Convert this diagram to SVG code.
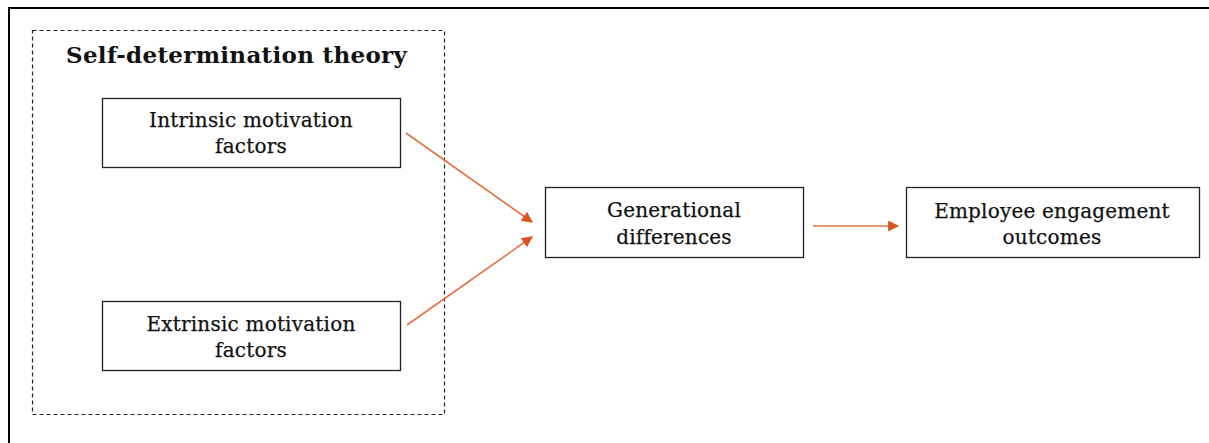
<svg xmlns="http://www.w3.org/2000/svg" width="1209" height="443" viewBox="0 0 1209 443">
<style>
.box{fill:#fff;stroke:#222;stroke-width:1.3}
.t{font-family:"DejaVu Serif","Liberation Serif",serif;font-size:20px;letter-spacing:0.2px;fill:#111;stroke:#111;stroke-width:0.25;text-anchor:middle}
.title{font-family:"DejaVu Serif","Liberation Serif",serif;font-size:23px;letter-spacing:0.3px;font-weight:bold;fill:#111}
.c{stroke:#E4703F;stroke-width:1.6;fill:none;marker-end:url(#ah)}
</style>
<defs>
<marker id="ah" viewBox="0 0 10 10" refX="9" refY="5" markerWidth="12" markerHeight="11" markerUnits="userSpaceOnUse" orient="auto">
<path d="M0,0 L10,5 L0,10 z" fill="#D9541E"/>
</marker>
</defs>
<rect width="1209" height="443" fill="#fff"/>
<path d="M9,443 V8 H1209" fill="none" stroke="#000" stroke-width="2"/>
<g id="sdt">
<rect x="32.5" y="30.5" width="412" height="384" fill="none" stroke="#222" stroke-width="1.2" stroke-dasharray="4,3"/>
<text class="title" x="66" y="63">Self-determination theory</text>
</g>
<g id="intrinsic">
<rect class="box" x="102.5" y="98.5" width="298" height="69"/>
<text class="t" x="251" y="127">Intrinsic motivation</text>
<text class="t" x="251" y="153">factors</text>
</g>
<g id="extrinsic">
<rect class="box" x="102.5" y="301.5" width="298" height="69"/>
<text class="t" x="251" y="331">Extrinsic motivation</text>
<text class="t" x="251" y="357">factors</text>
</g>
<g id="generational">
<rect class="box" x="545.5" y="187.5" width="258" height="70"/>
<text class="t" x="674" y="217">Generational</text>
<text class="t" x="674" y="244">differences</text>
</g>
<g id="employee">
<rect class="box" x="906.5" y="187.5" width="293" height="70"/>
<text class="t" x="1052" y="218">Employee engagement</text>
<text class="t" x="1052" y="244">outcomes</text>
</g>
<g id="connectors">
<line class="c" x1="406" y1="133" x2="532" y2="222"/>
<line class="c" x1="407" y1="325" x2="532" y2="237"/>
<line class="c" x1="813" y1="226" x2="898" y2="226"/>
</g>
</svg>
